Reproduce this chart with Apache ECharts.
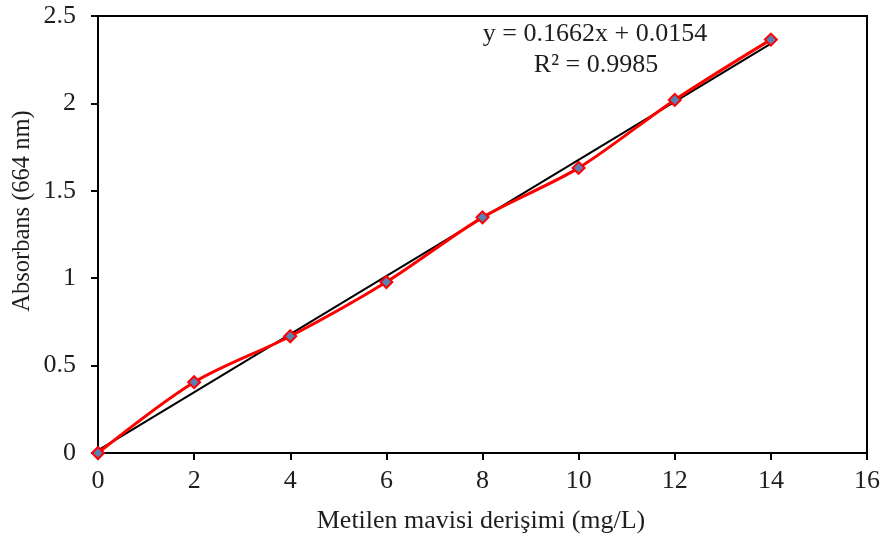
<!DOCTYPE html>
<html>
<head>
<meta charset="utf-8">
<script src="https://cdn.jsdelivr.net/npm/echarts@6/dist/echarts.min.js"></script>
<style>
  html, body { margin: 0; padding: 0; background: #fff; }
  #chart { width: 884px; height: 541px; }
</style>
</head>
<body>
<div id="chart"></div>
<script>
// Calibration data: methylene blue concentration vs absorbance at 664 nm
const concentrations = [0, 2, 4, 6, 8, 10, 12, 14];
const absorbance = [0, 0.405, 0.668, 0.978, 1.348, 1.631, 2.02, 2.365];
const xTicks = [0, 2, 4, 6, 8, 10, 12, 14, 16];
const yTicks = [0, 0.5, 1, 1.5, 2, 2.5];

// Linear fit reported on the chart
const slope = 0.1662;
const intercept = 0.0154;
const rSquared = 0.9985;
const fitRange = [0, 14];

const xTitle = 'Metilen mavisi derişimi (mg/L)';
const yTitle = 'Absorbans (664 nm)';

const FONT = '"Liberation Serif", "Times New Roman", serif';
const INK = '#1e1e1e';

const measured = concentrations.map((c, i) => [c, absorbance[i]]);
const fitLine = fitRange.map(x => [x, slope * x + intercept]);

const chart = echarts.init(document.getElementById('chart'), null, { renderer: 'canvas' });

chart.setOption({
  animation: false,
  backgroundColor: '#ffffff',
  grid: { left: 98, right: 17, top: 16, bottom: 88, containLabel: false,
          show: true, borderColor: '#000', borderWidth: 2 },
  xAxis: {
    type: 'value',
    min: xTicks[0], max: xTicks[xTicks.length - 1], interval: 2,
    axisLine: { show: true, onZero: false, lineStyle: { color: '#000', width: 2 } },
    axisTick: { show: true, inside: false, length: 7, lineStyle: { color: '#000', width: 2 } },
    axisLabel: { fontFamily: FONT, fontSize: 26, color: INK, margin: 15 },
    splitLine: { show: false }
  },
  yAxis: {
    type: 'value',
    min: yTicks[0], max: yTicks[yTicks.length - 1], interval: 0.5,
    axisLine: { show: true, onZero: false, lineStyle: { color: '#000', width: 2 } },
    axisTick: { show: true, inside: false, length: 7, lineStyle: { color: '#000', width: 2 } },
    axisLabel: { fontFamily: FONT, fontSize: 26, color: INK, margin: 22 },
    splitLine: { show: false }
  },
  graphic: [
    {
      type: 'text',
      style: {
        x: 595, y: 34,
        text: 'y = ' + slope + 'x + ' + intercept.toFixed(4),
        font: '26px ' + FONT, fill: INK, align: 'center', verticalAlign: 'middle'
      }
    },
    {
      type: 'text',
      style: {
        x: 596, y: 65,
        text: 'R² = ' + rSquared,
        font: '26px ' + FONT, fill: INK, align: 'center', verticalAlign: 'middle'
      }
    },
    {
      type: 'text',
      x: 481, y: 521,
      style: {
        x: 0, y: 0,
        text: xTitle,
        font: '26px ' + FONT, fill: INK, align: 'center', verticalAlign: 'middle'
      }
    },
    {
      type: 'text',
      x: 23, y: 211,
      rotation: Math.PI / 2,
      style: {
        x: 0, y: 0,
        text: yTitle,
        font: '24.5px ' + FONT, fill: INK, align: 'center', verticalAlign: 'middle'
      }
    }
  ],
  series: [
    {
      name: 'Linear fit',
      type: 'line',
      data: fitLine,
      symbol: 'none',
      lineStyle: { color: '#000', width: 2 },
      z: 3
    },
    {
      name: 'Absorbans',
      type: 'line',
      data: measured,
      smooth: 0.3,
      symbol: 'diamond',
      symbolSize: 12,
      itemStyle: { color: '#5b7fb3', borderColor: '#ff0000', borderWidth: 2 },
      lineStyle: { color: '#ff0000', width: 3 },
      z: 4
    }
  ]
});
</script>
</body>
</html>
